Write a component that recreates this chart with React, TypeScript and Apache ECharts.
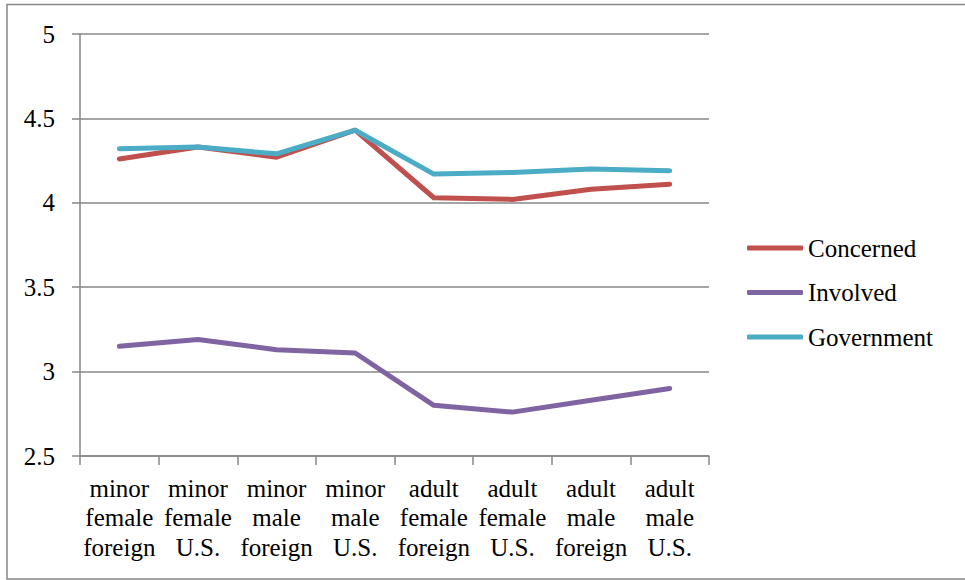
import React, { useEffect, useRef } from "react";
import * as echarts from "echarts";

const categories = [
  "minor\nfemale\nforeign",
  "minor\nfemale\nU.S.",
  "minor\nmale\nforeign",
  "minor\nmale\nU.S.",
  "adult\nfemale\nforeign",
  "adult\nfemale\nU.S.",
  "adult\nmale\nforeign",
  "adult\nmale\nU.S.",
];
const concerned = [4.26, 4.33, 4.27, 4.43, 4.03, 4.02, 4.08, 4.11];
const involved = [3.15, 3.19, 3.13, 3.11, 2.8, 2.76, 2.83, 2.9];
const government = [4.32, 4.33, 4.29, 4.43, 4.17, 4.18, 4.2, 4.19];

const FONT = "Liberation Serif";
const GRAY = "#878787";

export default function App() {
  const ref = useRef<HTMLDivElement>(null);
  useEffect(() => {
    if (!ref.current) return;
    const chart = echarts.init(ref.current, null, { renderer: "svg" });
    const mk = (name: string, data: number[], color: string) => ({
      name,
      type: "line",
      data,
      symbol: "none",
      lineStyle: { color, width: 5, cap: "round", join: "round" },
      itemStyle: { color },
    });
    chart.setOption({
      animation: false,
      backgroundColor: "#ffffff",
      textStyle: { fontFamily: FONT },
      graphic: [
        {
          type: "rect",
          shape: { x: 7, y: 4.5, width: 970, height: 574.5 },
          style: { fill: "none", stroke: GRAY, lineWidth: 1.5 },
          silent: true,
        },
      ],
      grid: { left: 80, right: 256, top: 34, bottom: 124, containLabel: false },
      legend: {
        orient: "vertical",
        left: 747,
        top: 235,
        padding: 0,
        icon: "roundRect",
        itemWidth: 56,
        itemHeight: 5,
        itemGap: 18.5,
        textStyle: { fontFamily: FONT, fontSize: 25, color: "#000", lineHeight: 26 },
        data: ["Concerned", "Involved", "Government"],
      },
      xAxis: {
        type: "category",
        data: categories,
        boundaryGap: true,
        axisLine: { show: true, lineStyle: { color: GRAY, width: 1.5 } },
        axisTick: { show: true, length: 9, alignWithLabel: false, lineStyle: { color: GRAY, width: 1.5 } },
        axisLabel: {
          interval: 0,
          margin: 17.5,
          fontFamily: FONT,
          fontSize: 25,
          lineHeight: 29.5,
          color: "#000",
        },
      },
      yAxis: {
        type: "value",
        min: 2.5,
        max: 5,
        interval: 0.5,
        axisLine: { show: true, lineStyle: { color: GRAY, width: 1.5 } },
        axisTick: { show: true, length: 8, lineStyle: { color: GRAY, width: 1.5 } },
        splitLine: { show: true, lineStyle: { color: GRAY, width: 1.5 } },
        axisLabel: {
          margin: 25,
          fontFamily: FONT,
          fontSize: 25,
          color: "#000",
          formatter: (v: number) => String(Math.round(v * 10) / 10),
        },
      },
      series: [
        mk("Concerned", concerned, "#C0504D"),
        mk("Involved", involved, "#8064A2"),
        mk("Government", government, "#4BACC6"),
      ],
    });
    return () => chart.dispose();
  }, []);
  return (
    <div
      ref={ref}
      style={{ position: "absolute", left: 0, top: 0, width: 965, height: 580 }}
    />
  );
}
